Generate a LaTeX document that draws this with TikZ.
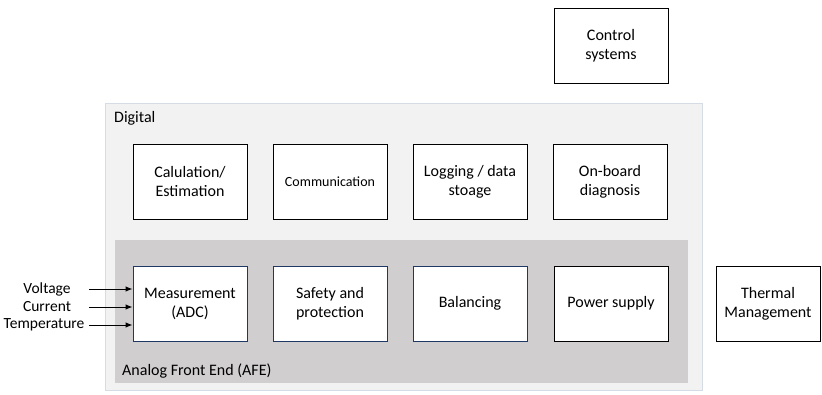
\documentclass[tikz,border=0pt]{standalone}
\usepackage{fontspec}
\setmainfont{Carlito}
\usetikzlibrary{arrows.meta}
\definecolor{diggray}{HTML}{F2F2F2}
\definecolor{digedge}{HTML}{D6DCE5}
\definecolor{afegray}{HTML}{D0CECE}
\definecolor{navyedge}{HTML}{1F3864}
\tikzset{
  blk/.style={draw=black, fill=white, line width=0.9pt, minimum width=114pt, minimum height=75pt, align=center, inner sep=2pt, font=\fontsize{16}{19}\selectfont},
  blkb/.style={blk, draw=navyedge},
  lbl/.style={font=\fontsize{16}{19}\selectfont, inner sep=0pt},
  inlbl/.style={font=\fontsize{15.5}{18}\selectfont, inner sep=0pt},
  inarrow/.style={-{Latex[length=7pt,width=5.5pt]}, line width=1pt}
}
\begin{document}
\begin{tikzpicture}[x=1pt,y=-1pt]
\useasboundingbox (0,0) rectangle (822,394);
\fill[white] (0,0) rectangle (822,394);
% Digital region
\draw[fill=diggray, draw=digedge, line width=0.8pt] (105,103) rectangle (702,390);
\node[lbl, anchor=west] (dig) at (114,118) {Digital};
% AFE region
\fill[afegray] (115,240) rectangle (688,383);
\node[lbl, anchor=west] (afe) at (122,371) {Analog Front End (AFE)};
% top row
\node[blk] (calc) at (190,181.5) {Calulation/\\Estimation};
\node[blk, font=\fontsize{14}{17}\selectfont] (comm) at (330,181.5) {Communication};
\node[blk] (log) at (470,181.5) {Logging / data\\stoage};
\node[blk] (obd) at (610,181.5) {On-board\\diagnosis};
% control
\node[blk] (ctrl) at (611,45.5) {Control\\systems};
% bottom row
\node[blkb] (meas) at (190,303.5) {Measurement\\(ADC)};
\node[blkb] (safe) at (330,303.5) {Safety and\\protection};
\node[blkb] (bal) at (470,303.5) {Balancing};
\node[blk] (pow) at (611,303.5) {Power supply};
\node[blk, minimum width=104pt] (therm) at (768,303.5) {Thermal\\Management};
% inputs
\coordinate (v) at (89,289);
\coordinate (c) at (89,307);
\coordinate (t) at (89,325);
\node[inlbl] (vl) at (47,289) {Voltage};
\node[inlbl] (cl) at (47,307) {Current};
\node[inlbl] (tl) at (44,325) {Temperature};
\draw[inarrow] (v) -- (meas.west |- v);
\draw[inarrow] (c) -- (meas.west |- c);
\draw[inarrow] (t) -- (meas.west |- t);
\end{tikzpicture}
\end{document}
